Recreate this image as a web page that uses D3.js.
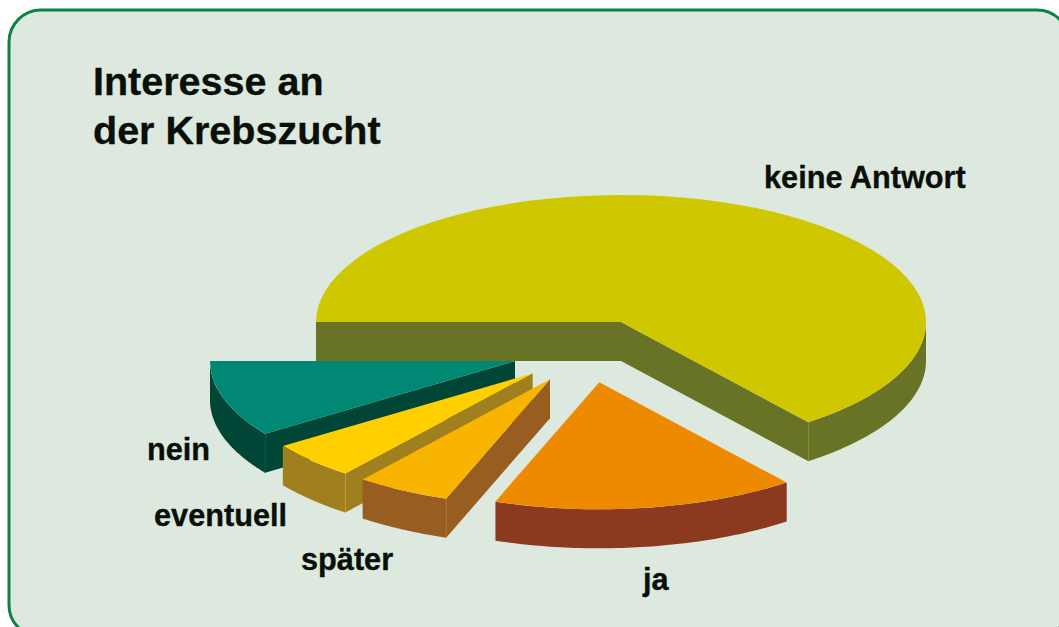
<!DOCTYPE html>
<html lang="de">
<head>
<meta charset="utf-8">
<title>Interesse an der Krebszucht</title>
<script src="https://cdn.jsdelivr.net/npm/d3@7"></script>
<style>
  html, body { margin: 0; padding: 0; background: #fff; overflow: hidden; }
  svg { display: block; }
  text { font-family: "Liberation Sans", Arial, sans-serif; font-weight: 700; fill: #0a0f0a; stroke: #0a0f0a; stroke-width: 0.35; }
</style>
</head>
<body>
<svg id="chart" width="1059" height="627"></svg>
<script>
// Chart data (share of answers in percent).
const categories = [ 'keine Antwort', 'ja', 'später', 'eventuell', 'nein' ];
const shares     = [ 64.47, 16.06, 5, 4.75, 9.72 ];
const titleLines = [ 'Interesse an', 'der Krebszucht' ];

// Colours per slice: top face and side walls.
const topColors  = [ '#cfc800', '#ee8a00', '#f9b400', '#ffcf00', '#008874' ];
const wallColors = [ '#697326', '#8b3a20', '#985d20', '#a07f1f', '#004535' ];

// How far each slice is pulled out of the pie, in pixels.
const pullX = [ 0, -21.7, -71, -88.3, -106 ];
const pullY = [ 0, 60.3, 57.3, 51.3, 39 ];

// Label anchors (left edge, baseline).
const labelX = [ 764, 643, 301, 154, 147 ];
const labelY = [ 188, 590, 570, 526, 460 ];

// Pie geometry.
const centerX = 621, centerY = 322, radiusX = 305, radiusY = 127, depth = 39;

const svg = d3.select( '#chart' );

// Panel behind the chart; runs off the right and bottom of the picture.
svg.append( 'rect' )
  .attr( 'x', 9 ).attr( 'y', 10 )
  .attr( 'width', 1060 ).attr( 'height', 627 )
  .attr( 'rx', 32 ).attr( 'ry', 32 )
  .attr( 'fill', '#dde9df' )
  .attr( 'stroke', '#0a8345' )
  .attr( 'stroke-width', 3 );

// Title.
svg.append( 'g' ).selectAll( 'text' )
  .data( titleLines ).enter().append( 'text' )
  .attr( 'x', 93 )
  .attr( 'y', ( d, i ) => 94.5 + i * 49 )
  .attr( 'font-size', 39.5 )
  .text( d => d );

// Unit pie, squashed into an ellipse by the scales below.
const pie = d3.pie().sort( null ).startAngle( -Math.PI / 2 ).endAngle( 3 * Math.PI / 2 );
const slices = pie( shares ).map( ( s, i ) => ( { ...s, i } ) );

const sx = d3.scaleLinear().domain( [ -1, 1 ] ).range( [ -radiusX, radiusX ] );
const sy = d3.scaleLinear().domain( [ -1, 1 ] ).range( [ -radiusY, radiusY ] );

const unitArc = d3.arc().innerRadius( 0 ).outerRadius( 1 );

// Outer wall, sampled over the part of the rim that faces the viewer.
const rimWall = d3.area()
  .x( a => sx( Math.sin( a ) ) )
  .y0( a => sy( -Math.cos( a ) ) )
  .y1( a => sy( -Math.cos( a ) ) + depth );

function rimAngles ( s ) {
  const from = Math.max( s.startAngle, Math.PI / 2 );
  const to   = Math.min( s.endAngle, 3 * Math.PI / 2 );
  if ( from >= to ) return [];
  return d3.range( 61 ).map( k => from + ( to - from ) * k / 60 );
}

// Flat wall along a cut edge, from the centre out to the rim.
function cutWall ( a ) {
  const x = sx( Math.sin( a ) ), y = sy( -Math.cos( a ) );
  return `M0,0L${x},${y}L${x},${y + depth}L0,${depth}Z`;
}

// Back to front, so the pulled-out slices overlap correctly.
const drawOrder = [ 0, 4, 3, 2, 1 ];

const groups = svg.append( 'g' ).selectAll( 'g' )
  .data( drawOrder.map( i => slices[ i ] ) ).enter().append( 'g' )
  .attr( 'transform', d => `translate(${centerX + pullX[ d.i ]},${centerY + pullY[ d.i ]})` );

groups.each( function ( d ) {
  const g = d3.select( this );
  const wallColor = wallColors[ d.i ];
  const edge = d3.color( wallColor ).brighter( 0.6 );

  // A cut edge only shows when its outward side points down.
  if ( Math.sin( d.startAngle ) < 0 )
    g.append( 'path' ).attr( 'd', cutWall( d.startAngle ) ).attr( 'fill', wallColor );
  if ( Math.sin( d.endAngle ) > 0 )
    g.append( 'path' ).attr( 'd', cutWall( d.endAngle ) ).attr( 'fill', wallColor );

  const rim = rimAngles( d );
  if ( rim.length )
    g.append( 'path' ).attr( 'd', rimWall( rim ) ).attr( 'fill', wallColor );

  // Thin lighter seam where the cut wall meets the rim wall.
  if ( d.i !== 1 ) {
    const a = d.i === 0 ? d.endAngle : d.startAngle;
    g.append( 'line' )
      .attr( 'x1', sx( Math.sin( a ) ) ).attr( 'y1', sy( -Math.cos( a ) ) )
      .attr( 'x2', sx( Math.sin( a ) ) ).attr( 'y2', sy( -Math.cos( a ) ) + depth )
      .attr( 'stroke', edge ).attr( 'stroke-width', 0.7 );
  }

  g.append( 'path' )
    .attr( 'transform', `scale(${radiusX},${radiusY})` )
    .attr( 'd', unitArc( d ) )
    .attr( 'fill', topColors[ d.i ] );
} );

// Slice labels.
svg.append( 'g' ).selectAll( 'text' )
  .data( categories ).enter().append( 'text' )
  .attr( 'x', ( d, i ) => labelX[ i ] )
  .attr( 'y', ( d, i ) => labelY[ i ] )
  .attr( 'font-size', 30.7 )
  .text( d => d );
</script>
</body>
</html>
